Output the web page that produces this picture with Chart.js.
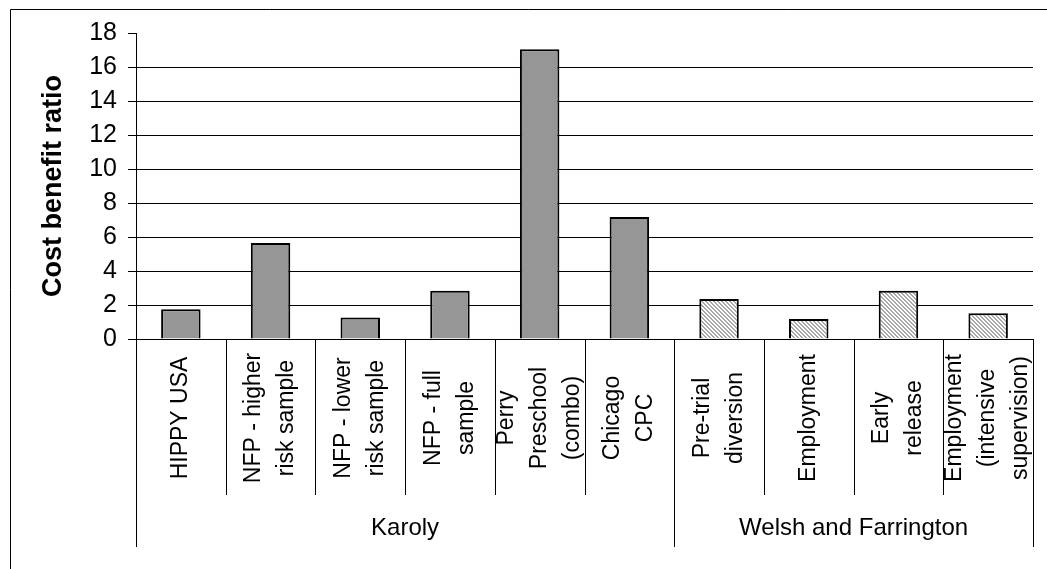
<!DOCTYPE html>
<html>
<head>
<meta charset="utf-8">
<script src="https://cdn.jsdelivr.net/npm/chart.js"></script>
<style>
  html, body { margin: 0; padding: 0; background: #fff; }
  #wrap { width: 1047px; height: 569px; position: relative; }
</style>
</head>
<body>
<div id="wrap"><canvas id="myChart"></canvas></div>
<script>
// programmes, each label split in lines like the original
const categories = [
  ["HIPPY USA"],
  ["NFP - higher", "risk sample"],
  ["NFP - lower", "risk sample"],
  ["NFP - full", "sample"],
  ["Perry", "Preschool", "(combo)"],
  ["Chicago", "CPC"],
  ["Pre-trial", "diversion"],
  ["Employment"],
  ["Early", "release"],
  ["Employment", "(intensive", "supervision)"]
];
const groupNames = ["Karoly", "Welsh and Farrington"];
const groupOf = [0, 0, 0, 0, 0, 0, 1, 1, 1, 1];
const ratios = [1.75, 5.65, 1.27, 2.84, 17.05, 7.17, 2.35, 1.17, 2.84, 1.52];
const yTicks = [0, 2, 4, 6, 8, 10, 12, 14, 16, 18];

const FONT = "'Liberation Sans', Arial, sans-serif";

// light grey diagonal hatch for the second group
function makeHatch() {
  const c = document.createElement("canvas");
  c.width = 4; c.height = 4;
  const g = c.getContext("2d");
  g.fillStyle = "#fff";
  g.fillRect(0, 0, 4, 4);
  g.fillStyle = "#a8a8a8";
  for (let y = 0; y < 4; y++) {
    for (let x = 0; x < 4; x++) {
      const d = ((x - y) % 4 + 4) % 4;
      if (d === 0 || d === 1) g.fillRect(x, y, 1, 1);
    }
  }
  return g.createPattern(c, "repeat");
}
const hatch = makeHatch();
const barColors = groupOf.map(g => g === 0 ? "#969696" : hatch);

// draws the two-level category axis and the outer frame
const groupAxis = {
  id: "groupAxis",
  beforeDraw(chart) {
    const ctx = chart.ctx;
    ctx.save();
    ctx.strokeStyle = "#000";
    ctx.lineWidth = 1;
    ctx.beginPath();
    ctx.moveTo(10.5, 569);
    ctx.lineTo(10.5, 9.5);
    ctx.lineTo(1047, 9.5);
    ctx.stroke();
    ctx.restore();
  },
  afterDraw(chart) {
    const { ctx, chartArea } = chart;
    const x = chart.scales.x;
    const y0 = chartArea.bottom;
    const cellBottom = y0 + 156;
    const groupBottom = y0 + 208;
    const half = (x.getPixelForValue(1) - x.getPixelForValue(0)) / 2;
    const n = categories.length;

    ctx.save();
    ctx.strokeStyle = "#000";
    ctx.lineWidth = 1;
    const bounds = [];
    for (let i = 0; i <= n; i++) {
      const xb = i < n ? x.getPixelForValue(i) - half : x.getPixelForValue(n - 1) + half;
      bounds.push(xb);
      const isGroupEdge = i === 0 || i === n || groupOf[i] !== groupOf[i - 1];
      const px = Math.round(xb) + 0.5;
      ctx.beginPath();
      ctx.moveTo(px, y0);
      ctx.lineTo(px, isGroupEdge ? groupBottom : cellBottom);
      ctx.stroke();
    }

    // category labels, rotated
    ctx.fillStyle = "#000";
    ctx.font = "23px " + FONT;
    ctx.textAlign = "center";
    ctx.textBaseline = "middle";
    categories.forEach((lines, i) => {
      const cx = x.getPixelForValue(i);
      const cy = y0 + 79;
      lines.forEach((t, k) => {
        const off = (k - (lines.length - 1) / 2) * 33;
        ctx.save();
        ctx.translate(cx + off, cy);
        ctx.rotate(-Math.PI / 2);
        ctx.fillText(t, 0, 0);
        ctx.restore();
      });
    });

    // group labels
    ctx.font = "24px " + FONT;
    groupNames.forEach((name, g) => {
      const idx = groupOf.map((v, i) => v === g ? i : -1).filter(i => i >= 0);
      const left = bounds[idx[0]];
      const right = bounds[idx[idx.length - 1] + 1];
      ctx.fillText(name, (left + right) / 2, y0 + 189);
    });
    ctx.restore();
  }
};

const config = {
  type: "bar",
  data: {
    labels: categories.map(l => l.join(" ")),
    datasets: [{
      label: "Cost benefit ratio",
      data: ratios,
      backgroundColor: barColors,
      borderColor: "#000",
      borderWidth: 2,
      barPercentage: 0.44,
      categoryPercentage: 1
    }]
  },
  options: {
    responsive: false,
    animation: false,
    devicePixelRatio: 1,
    layout: { padding: { top: 33, right: 14, bottom: 22, left: 0 } },
    plugins: {
      legend: { display: false },
      tooltip: { enabled: false }
    },
    scales: {
      x: {
        grid: { display: false },
        border: { display: true, color: "#000", width: 1 },
        ticks: { display: false },
        afterFit(scale) { scale.height = 208; }
      },
      y: {
        min: 0,
        max: 18,
        afterBuildTicks(scale) { scale.ticks = yTicks.map(v => ({ value: v })); },
        grid: {
          color: ctx => ctx.tick && ctx.tick.value === 18 ? "rgba(0,0,0,0)" : "#000",
          tickColor: "#000",
          tickLength: 8,
          lineWidth: 1
        },
        border: { display: true, color: "#000", width: 1 },
        ticks: {
          color: "#000",
          padding: 11,
          font: { family: FONT, size: 25 }
        },
        title: {
          display: true,
          text: "Cost benefit ratio",
          color: "#000",
          font: { family: FONT, size: 27, weight: "bold" },
          padding: { top: 37, bottom: 0 }
        },
        afterFit(scale) { scale.width = 136; }
      }
    }
  },
  plugins: [groupAxis]
};

const myChart = document.getElementById("myChart");
myChart.width = 1047;
myChart.height = 569;
new Chart(myChart, config);
</script>
</body>
</html>
